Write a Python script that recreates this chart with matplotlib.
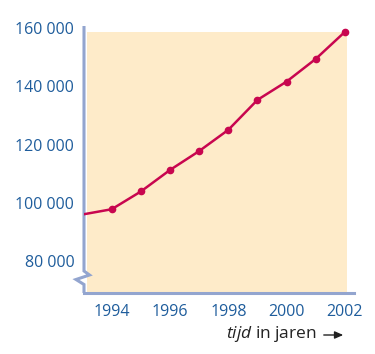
import matplotlib
matplotlib.use("Agg")
import matplotlib.pyplot as plt
from matplotlib.lines import Line2D
from matplotlib.patches import Rectangle, FancyArrowPatch

# data
years = [1993, 1994, 1995, 1996, 1997, 1998, 1999, 2000, 2001, 2002]
values = [96000, 97800, 103900, 111300, 117800, 125100, 135400, 141700, 149500, 158800]
x_ticks = [1994, 1996, 1998, 2000, 2002]
y_ticks = [80000, 100000, 120000, 140000, 160000]
y_labels = ["80 000", "100 000", "120 000", "140 000", "160 000"]

plt.rcParams['font.family'] = ['Open Sans', 'DejaVu Sans']
plt.rcParams['mathtext.fontset'] = 'custom'
plt.rcParams['mathtext.it'] = 'Open Sans:italic'
plt.rcParams['mathtext.rm'] = 'Open Sans'

axis_col = "#93a5cf"
fill_col = "#feebc9"
line_col = "#c8064f"
tick_col = "#1f5d9c"

W, H = 375, 354
fig = plt.figure(figsize=(W / 100, H / 100), dpi=100)
# axis box in pixels: x 84..354, y 26..293 (from top)
ax = fig.add_axes([84 / W, (H - 293) / H, 270 / W, 267 / H])
ax.set_xlim(1993.05, 2002.31)
ax.set_ylim(69000, 160800)
ax.patch.set_visible(False)

# shaded background
ax.add_patch(Rectangle((1993.17, 69000), 2002.06 - 1993.17, 158700 - 69000,
                       facecolor=fill_col, edgecolor="none", zorder=0))

ax.plot(years, values, color=line_col, lw=1.8, zorder=3)
ax.plot(years[1:], values[1:], "o", color=line_col, ms=4.5, zorder=4)

for s in ["top", "right", "left"]:
    ax.spines[s].set_visible(False)
ax.spines["bottom"].set_color(axis_col)
ax.spines["bottom"].set_linewidth(2.2)

# y axis with break (zigzag), in pixel offsets
def px(x, y):
    return ((x - 84) / 270, (293 - y) / 267)

pts = [px(84, 26), px(84, 271), px(89.5, 275), px(76, 279.5), px(84, 284.5), px(84, 293)]
ax.add_line(Line2D([p[0] for p in pts], [p[1] for p in pts], transform=ax.transAxes,
                   color=axis_col, lw=2.2, clip_on=False, solid_joinstyle="miter",
                   solid_capstyle="butt"))

ax.set_xticks(x_ticks)
ax.set_xticklabels([str(t) for t in x_ticks])
ax.set_yticks(y_ticks)
ax.set_yticklabels(y_labels)
ax.tick_params(length=0, labelsize=11.5, labelcolor=tick_col)
ax.tick_params(axis="y", pad=7)
ax.tick_params(axis="x", pad=8)

fig.text(317 / W, (H - 334) / H, r"$tijd$ in jaren", ha="right", va="center",
         fontsize=12.5, color="#222222")
fig.add_artist(FancyArrowPatch(
    (321 / W, (H - 335) / H), (346 / W, (H - 335) / H), transform=fig.transFigure,
    arrowstyle="-|>,head_length=5,head_width=2.2", mutation_scale=1, color="#222222", lw=1))

fig.savefig("out.png", dpi=100)
